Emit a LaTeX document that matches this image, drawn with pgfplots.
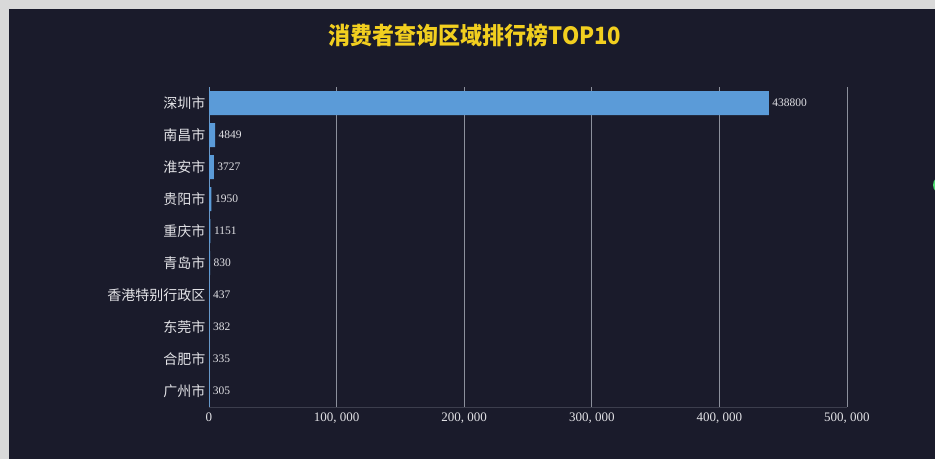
\documentclass[border=0pt]{standalone}
\usepackage{pgfplots}
\pgfplotsset{compat=1.18}
\usepackage{fontspec}
\setmainfont{Liberation Serif}
\newfontfamily\cjk{Noto Sans CJK SC}
\definecolor{outer}{HTML}{D9D9D9}
\definecolor{panel}{HTML}{1A1B2B}
\definecolor{barblue}{HTML}{5B9BD8}
\definecolor{titleyellow}{HTML}{F2CF1F}
\definecolor{gridgray}{HTML}{8C909C}
\definecolor{labelgray}{HTML}{E2E2E6}
\begin{document}
\begin{tikzpicture}[x=1pt,y=1pt]
\useasboundingbox (0,0) rectangle (935,-459);
\fill[outer] (0,0) rectangle (935,-459);
\fill[panel] (9,-9) rectangle (935,-459);
\begin{scope}
  \clip (0,0) rectangle (935,-459);
  \fill[green!60!teal!70!white] (942,-185) circle (9);
\end{scope}
\node[titleyellow, font=\cjk\bfseries\fontsize{22}{25}\selectfont, yscale=1.08] at (475,-35) {消费者查询区域排行榜TOP10};

\begin{axis}[
    at={(209pt,-407pt)}, anchor=south west,
    scale only axis,
    width=638pt, height=320pt,
    xbar, bar width=24pt,
    xmin=0, xmax=500000,
    ymin=-0.5, ymax=9.5,
    y dir=reverse,
    scaled x ticks=false,
    xtick={0,100000,200000,300000,400000,500000},
    xticklabels={0,{100, 000},{200, 000},{300, 000},{400, 000},{500, 000}},
    ytick={0,...,9},
    yticklabels={深圳市,南昌市,淮安市,贵阳市,重庆市,青岛市,香港特别行政区,东莞市,合肥市,广州市},
    xmajorgrids=true,
    major grid style={gridgray, line width=0.8pt},
    major tick length=0pt,
    axis x line*=bottom,
    axis y line*=left,
    x axis line style={draw=gridgray!30!panel, -},
    y axis line style={draw=barblue!70!gridgray, line width=0.8pt, -},
    xticklabel style={labelgray, font=\fontsize{13}{15}\selectfont, yshift=-2pt},
    yticklabel style={labelgray, font=\cjk\fontsize{14}{16}\selectfont},
    /pgf/number format/assume math mode=true,
    nodes near coords,
    point meta=x,
    nodes near coords style={labelgray, font=\fontsize{11.5}{13}\selectfont,
        /pgf/number format/.cd, fixed, precision=0, 1000 sep={}},
]
\addplot[fill=barblue, draw=none] coordinates {
(438800,0)
(4849,1)
(3727,2)
(1950,3)
(1151,4)
(830,5)
(437,6)
(382,7)
(335,8)
(305,9)
};
\end{axis}
\end{tikzpicture}
\end{document}
